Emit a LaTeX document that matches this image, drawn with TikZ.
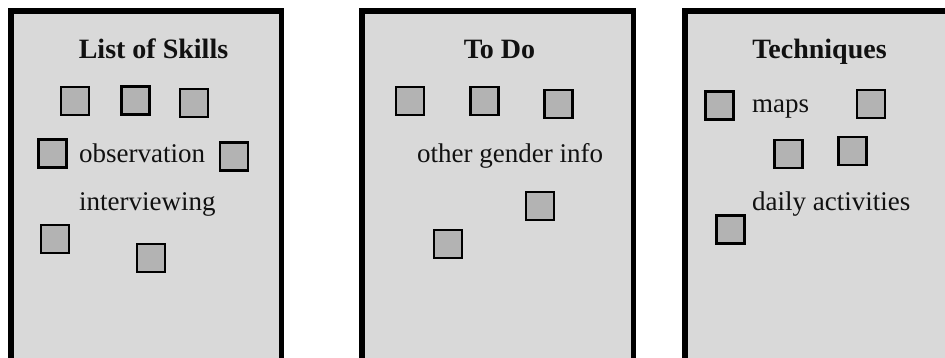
\documentclass[tikz,border=0pt]{standalone}
\usepackage{fontspec}
\setmainfont{Liberation Serif}
\definecolor{panelfill}{HTML}{D9D9D9}
\definecolor{boxfill}{HTML}{B3B3B3}
\definecolor{ink}{HTML}{111111}
\tikzset{
  panel/.style={draw=black, line width=5.5pt, fill=panelfill},
  sq/.style={draw=black, line width=2.4pt, fill=boxfill, minimum size=28pt, inner sep=0pt, outer sep=0pt},
  title/.style={font=\fontsize{28}{32}\selectfont\bfseries, text=ink, inner sep=0pt, anchor=base},
  lbl/.style={font=\fontsize{27}{32}\selectfont, text=ink, inner sep=0pt, anchor=base west},
}
\begin{document}
\begin{tikzpicture}[x=1pt, y=-1pt]
\useasboundingbox (0,0) rectangle (945,357);
\clip (0,0) rectangle (945,357);
% panels
\draw[panel] (10.75,10.9) rectangle (281.6,420);
\draw[panel] (362.1,10.9) rectangle (633.3,420);
\draw[panel] (684.8,10.9) rectangle (980,420);
% panel 1
\node[title] (t1) at (153.5,58) {List of Skills};
\node[sq] (a1) at (75,101) {};
\node[sq] (a2) at (135.5,100.5) {};
\node[sq] (a3) at (194,103) {};
\node[sq] (a4) at (52.5,153.5) {};
\node[sq] (a5) at (234,156.5) {};
\node[sq] (a6) at (55,239) {};
\node[sq] (a7) at (151,258) {};
\node[lbl] (l1) at (79,162) {observation};
\node[lbl] (l2) at (79,210.5) {interviewing};
% panel 2
\node[title] (t2) at (499.5,58) {To Do};
\node[sq] (b1) at (410,101) {};
\node[sq] (b2) at (484.5,101) {};
\node[sq] (b3) at (558.5,104) {};
\node[sq] (b4) at (540,206) {};
\node[sq] (b5) at (448,244) {};
\node[lbl] (l3) at (417,162) {other gender info};
% panel 3
\node[title] (t3) at (819.5,58) {Techniques};
\node[sq] (c1) at (719.5,105.5) {};
\node[sq] (c2) at (871,104) {};
\node[sq] (c3) at (788.5,154) {};
\node[sq] (c4) at (852.5,151) {};
\node[sq] (c5) at (730.5,229.5) {};
\node[lbl] (l4) at (752,112) {maps};
\node[lbl] (l5) at (752,210) {daily activities};
\end{tikzpicture}
\end{document}
